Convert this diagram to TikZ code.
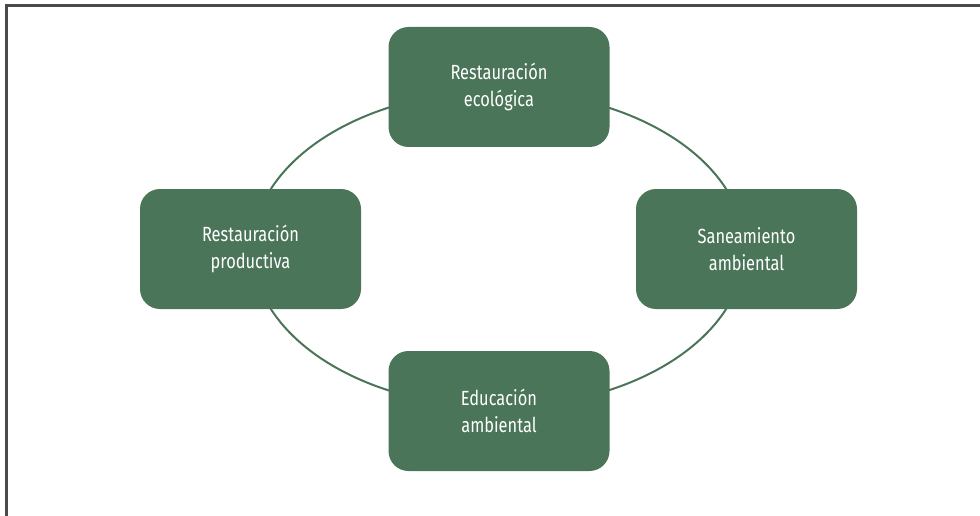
\documentclass[tikz,border=0pt]{standalone}
\usepackage{fontspec}
\setmainfont{Fira Sans}[FakeStretch=0.8]
\definecolor{leaf}{HTML}{4A7558}
\definecolor{frameline}{HTML}{4A4A4A}
\begin{document}
\begin{tikzpicture}[x=1pt,y=-1pt,
  area/.style={draw=none,fill=leaf,rounded corners=20pt,minimum width=221pt,minimum height=120pt,
    text=white,align=center,font=\fontsize{20.5}{27}\selectfont,inner sep=0pt},
  cycle/.style={draw=leaf,line width=2pt},
  frame/.style={draw=frameline,line width=2.2pt}]
\useasboundingbox (0,0) rectangle (980,516);
% page frame: top and left rules
\coordinate (ftr) at (980,5.5);
\coordinate (ftl) at (6.5,5.5);
\coordinate (fbl) at (6.5,516);
\draw[frame] (ftr) -- (ftl) -- (fbl);
% ring joining the four areas
\coordinate (c) at (498.5,249);
\draw[cycle] (c) ellipse [x radius=246, y radius=158];
% the four areas
\node[area] (eco) at (499,87) {Restauración\\ecológica};
\node[area] (prod) at (250.5,249) {Restauración\\productiva};
\node[area] (san) at (746.5,249) {Saneamiento\\ambiental};
\node[area] (edu) at (499,411) {Educación\\ambiental};
\end{tikzpicture}
\end{document}
